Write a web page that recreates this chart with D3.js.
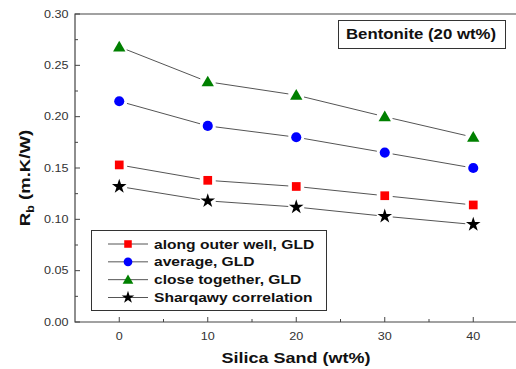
<!DOCTYPE html>
<html>
<head>
<meta charset="utf-8">
<script src="https://cdn.jsdelivr.net/npm/d3@7"></script>
<style>
  body { margin: 0; background: #fff; }
  svg { display: block; font-family: "Liberation Sans", Arial, sans-serif; }
</style>
</head>
<body>
<div id="chart"></div>
<script>
const silica = [0, 10, 20, 30, 40];
const alongOuter = [0.153, 0.138, 0.132, 0.123, 0.114];
const average = [0.215, 0.191, 0.180, 0.165, 0.150];
const closeTogether = [0.268, 0.234, 0.221, 0.200, 0.180];
const sharqawy = [0.132, 0.118, 0.112, 0.103, 0.095];
const seriesNames = ["along outer well, GLD", "average, GLD", "close together, GLD", "Sharqawy correlation"];
const xTicks = [0, 10, 20, 30, 40];
const yTicks = [0, 0.05, 0.10, 0.15, 0.20, 0.25, 0.30];

const width = 516, height = 369;
const stretch = 1.2; // the picture is a bit wider than tall

const svg = d3.select("#chart").append("svg")
  .attr("width", width).attr("height", height);

const x = d3.scaleLinear().domain([-5, 45]).range([75, 517.5]);
const y = d3.scaleLinear().domain([0, 0.30]).range([322, 14]);

const series = [
  { name: seriesNames[0], values: alongOuter, color: "#ff0000", shape: d3.symbolSquare, size: 76 },
  { name: seriesNames[1], values: average, color: "#0000ff", shape: d3.symbolCircle, size: 80 },
  { name: seriesNames[2], values: closeTogether, color: "#008000", shape: d3.symbolTriangle, size: 66 },
  { name: seriesNames[3], values: sharqawy, color: "#000000", shape: d3.symbolStar, size: 66 }
];

// text helper: horizontal stretch around the anchor point
function label(g, tx, ty, str, size, anchor, bold) {
  return g.append("text")
    .attr("transform", `translate(${tx},${ty}) scale(${stretch},1)`)
    .attr("dy", "0.35em")
    .attr("text-anchor", anchor).attr("font-size", size)
    .attr("font-weight", bold ? "bold" : null)
    .attr("fill", bold ? "#111" : "#333")
    .text(str);
}

const x0 = x(-5), x1 = 520, y0 = y(0), y1 = y(0.30);

// ticks (inward)
const yMinor = d3.range(0.025, 0.30, 0.05);
svg.append("g").selectAll("line").data(yTicks).join("line")
  .attr("x1", x0).attr("x2", x0 + 5).attr("y1", d => y(d)).attr("y2", d => y(d))
  .attr("stroke", "#444");
svg.append("g").selectAll("line").data(yMinor).join("line")
  .attr("x1", x0).attr("x2", x0 + 3).attr("y1", d => y(d)).attr("y2", d => y(d))
  .attr("stroke", "#444");
const xMinor = [5, 15, 25, 35];
svg.append("g").selectAll("line").data(xTicks).join("line")
  .attr("x1", d => x(d)).attr("x2", d => x(d)).attr("y1", y0).attr("y2", y0 - 5)
  .attr("stroke", "#444");
svg.append("g").selectAll("line").data(xMinor).join("line")
  .attr("x1", d => x(d)).attr("x2", d => x(d)).attr("y1", y0).attr("y2", y0 - 3)
  .attr("stroke", "#444");

// frame (right side runs off the picture)
svg.append("path")
  .attr("d", `M${x1},${y1}H${x0}V${y0}H${x1}`)
  .attr("fill", "none").attr("stroke", "#444").attr("stroke-width", 1.2);

// tick labels
const gl = svg.append("g");
yTicks.forEach(d => label(gl, 68.5, y(d), d.toFixed(2), 10.5, "end", false));
xTicks.forEach(d => label(gl, x(d), y0 + 14, d, 10.5, "middle", false));

// axis titles
label(svg, 296, 357.5, "Silica Sand (wt%)", 15, "middle", true);
const yt = svg.append("text")
  .attr("transform", "translate(30,178) rotate(-90) scale(1.24,1)")
  .attr("text-anchor", "middle").attr("font-size", 15).attr("font-weight", "bold").attr("fill", "#111");
yt.append("tspan").text("R");
yt.append("tspan").attr("font-size", 10).attr("dy", 4).text("b");
yt.append("tspan").attr("dy", -4).text(" (m.K/W)");

// connecting lines with gaps at the markers
const gap = 8;
series.forEach(s => {
  const pts = silica.map((d, i) => [x(d), y(s.values[i])]);
  for (let i = 0; i < pts.length - 1; i++) {
    const [ax, ay] = pts[i], [bx, by] = pts[i + 1];
    const len = Math.hypot(bx - ax, by - ay);
    const ux = (bx - ax) / len, uy = (by - ay) / len;
    svg.append("line")
      .attr("x1", ax + ux * gap).attr("y1", ay + uy * gap)
      .attr("x2", bx - ux * gap).attr("y2", by - uy * gap)
      .attr("stroke", "#555").attr("stroke-width", 1);
  }
  svg.append("g").selectAll("path").data(s.values).join("path")
    .attr("transform", (d, i) => `translate(${x(silica[i])},${y(d) + (s.shape === d3.symbolTriangle ? 1 : 0)})`)
    .attr("d", d3.symbol().type(s.shape).size(s.size))
    .attr("fill", s.color);
});

// annotation box
svg.append("rect").attr("x", 338.5).attr("y", 20.5).attr("width", 167).attr("height", 28)
  .attr("fill", "#fff").attr("stroke", "#333");
label(svg, 421, 34.5, "Bentonite (20 wt%)", 14, "middle", true);

// legend
const lg = svg.append("g");
lg.append("rect").attr("x", 91.5).attr("y", 230.5).attr("width", 235).attr("height", 80)
  .attr("fill", "#fff").attr("stroke", "#333");
const ly = d3.scalePoint().domain(seriesNames).range([244, 297.5]);
series.forEach(s => {
  const yy = ly(s.name);
  lg.append("line").attr("x1", 108).attr("x2", 148).attr("y1", yy).attr("y2", yy)
    .attr("stroke", "#555");
  lg.append("path")
    .attr("transform", `translate(128,${yy + (s.shape === d3.symbolTriangle ? 1 : 0)})`)
    .attr("d", d3.symbol().type(s.shape).size(s.size * 0.75))
    .attr("fill", s.color);
  label(lg, 154, yy, s.name, 13, "start", true);
});
</script>
</body>
</html>
